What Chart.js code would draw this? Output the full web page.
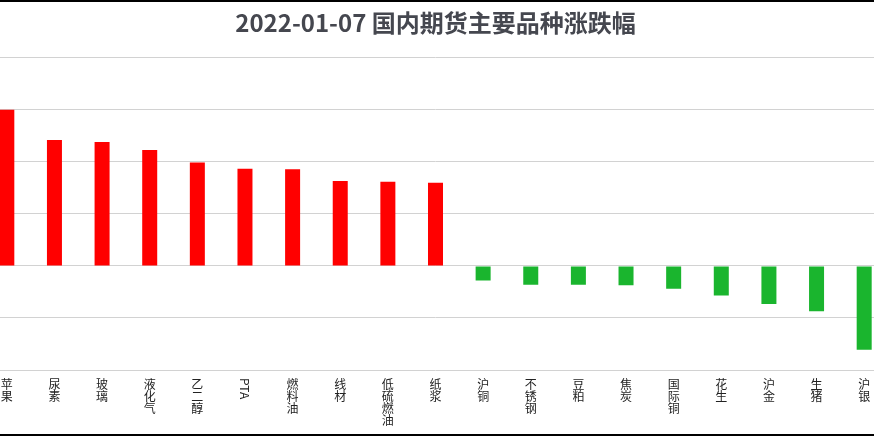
<!DOCTYPE html>
<html>
<head>
<meta charset="utf-8">
<script src="https://cdn.jsdelivr.net/npm/chart.js@4"></script>
<style>
  html, body { margin: 0; padding: 0; background: #fff; overflow: hidden; }
  body { width: 874px; height: 437px; position: relative; }
  #wrap { position: absolute; left: -17px; top: 0; width: 905px; height: 437px; }
  .rule { position: absolute; left: 0; width: 874px; height: 2px; background: #000; }
</style>
</head>
<body>
<div id="wrap"><canvas id="grafico"></canvas></div>
<div class="rule" style="top:0"></div>
<div class="rule" style="top:434px"></div>
<script>
const titulo = '2022-01-07 国内期货主要品种涨跌幅';
const categorias = ['苹果', '尿素', '玻璃', '液化气', '乙二醇', 'PTA', '燃料油', '线材', '低硫燃油', '纸浆',
    '沪铜', '不锈钢', '豆粕', '焦炭', '国际铜', '花生', '沪金', '生猪', '沪银'];
const valores = [3.00, 2.42, 2.38, 2.23, 1.99, 1.87, 1.86, 1.63, 1.62, 1.60,
    -0.28, -0.36, -0.36, -0.37, -0.44, -0.57, -0.73, -0.87, -1.61];
const yMin = -2, yMax = 4, yPasso = 1;

const corAlta = '#ff0000';
const corBaixa = '#1ab52e';
const fonteCJK = '"Noto Sans CJK SC", "Noto Sans", sans-serif';

// labels latinos (PTA) sao desenhados girados, como na imagem
const ehLatino = s => /^[A-Za-z0-9]+$/.test(s);

const rotuloGirado = {
    id: 'rotuloGirado',
    afterDraw(chart) {
        const x = chart.scales.x;
        const ctx = chart.ctx;
        ctx.save();
        ctx.font = '12px ' + fonteCJK;
        ctx.fillStyle = '#222';
        ctx.textBaseline = 'middle';
        ctx.textAlign = 'left';
        categorias.forEach((c, i) => {
            if (!ehLatino(c)) return;
            ctx.save();
            ctx.translate(x.getPixelForTick(i), x.top + 8);
            ctx.rotate(Math.PI / 2);
            ctx.fillText(c, 0, 0);
            ctx.restore();
        });
        ctx.restore();
    }
};

const ctx = document.getElementById('grafico').getContext('2d');
const grafico = new Chart(ctx, {
    type: 'bar',
    data: {
        labels: categorias,
        datasets: [{
            data: valores,
            backgroundColor: valores.map(v => v >= 0 ? corAlta : corBaixa),
            borderWidth: 0,
            categoryPercentage: 1,
            barPercentage: 0.315
        }]
    },
    options: {
        responsive: true,
        maintainAspectRatio: false,
        animation: false,
        layout: { padding: { top: 0, bottom: 3, left: 0, right: 0 } },
        plugins: {
            legend: { display: false },
            tooltip: { enabled: false },
            title: {
                display: true,
                text: titulo,
                color: '#45474f',
                font: { size: 24, weight: 'bold', family: fonteCJK, lineHeight: 1.2 },
                padding: { top: 8, bottom: 21 }
            }
        },
        scales: {
            x: {
                grid: { display: false, drawTicks: false },
                border: { display: false },
                ticks: {
                    autoSkip: false,
                    maxRotation: 0,
                    minRotation: 0,
                    padding: 8,
                    color: '#222',
                    font: { size: 12, family: fonteCJK, lineHeight: 1 },
                    callback: function (v, i) {
                        const c = categorias[i];
                        return ehLatino(c) ? ['', '', ''] : c.split('');
                    }
                }
            },
            y: {
                min: yMin,
                max: yMax,
                ticks: { display: false, stepSize: yPasso },
                grid: { color: '#d2d2d2', lineWidth: 1, drawTicks: false },
                border: { display: false }
            }
        }
    },
    plugins: [rotuloGirado]
});
</script>
</body>
</html>
